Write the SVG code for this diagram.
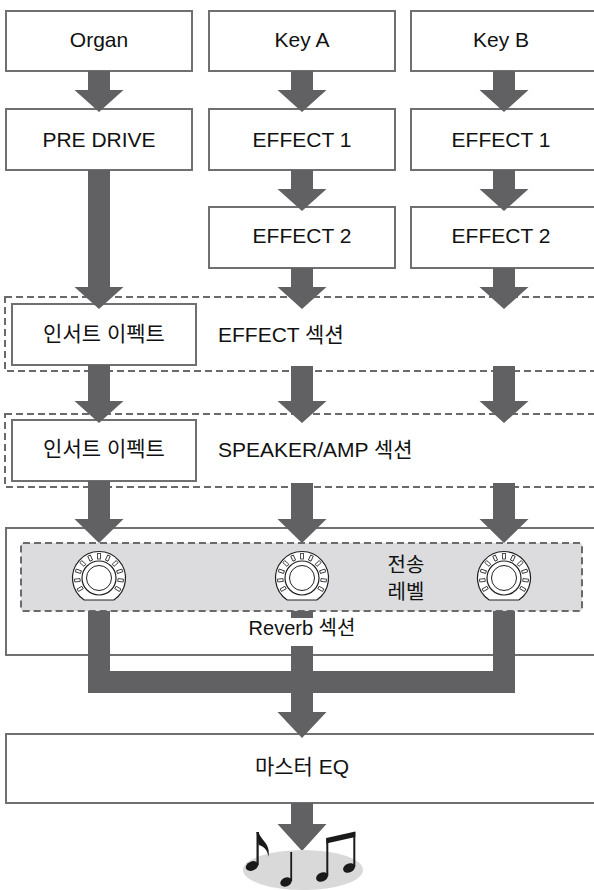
<svg xmlns="http://www.w3.org/2000/svg" width="594" height="890" viewBox="0 0 594 890">
<style>
.box{fill:#fff;stroke:#707072;stroke-width:2}
.dash{fill:none;stroke:#6a6a6c;stroke-width:2;stroke-dasharray:7 4}
.gray{fill:#dcdcde;stroke:#6a6a6c;stroke-width:2;stroke-dasharray:7 4}
.arr{fill:#616163}
.t{font-family:"Liberation Sans","Noto Sans CJK KR",sans-serif;font-size:21px;fill:#111}
.m{text-anchor:middle}
.ink{fill:#1a1a1a}
</style>
<defs>
<g id="knob">
<path d="M-14.8,22 A26.5,26.5 0 1 1 14.8,22 Z" fill="#fff" stroke="#231f20" stroke-width="1.2"/>
<g fill="#fff" stroke="#231f20" stroke-width="0.8">
<rect x="-1.4" y="-24.5" width="2.8" height="5.5" transform="rotate(-120)"/>
<rect x="-1.4" y="-24.5" width="2.8" height="5.5" transform="rotate(-96)"/>
<rect x="-1.4" y="-24.5" width="2.8" height="5.5" transform="rotate(-72)"/>
<rect x="-1.4" y="-24.5" width="2.8" height="5.5" transform="rotate(-48)"/>
<rect x="-1.4" y="-24.5" width="2.8" height="5.5" transform="rotate(-24)"/>
<rect x="-1.4" y="-24.5" width="2.8" height="5.5"/>
<rect x="-1.4" y="-24.5" width="2.8" height="5.5" transform="rotate(24)"/>
<rect x="-1.4" y="-24.5" width="2.8" height="5.5" transform="rotate(48)"/>
<rect x="-1.4" y="-24.5" width="2.8" height="5.5" transform="rotate(72)"/>
<rect x="-1.4" y="-24.5" width="2.8" height="5.5" transform="rotate(96)"/>
<rect x="-1.4" y="-24.5" width="2.8" height="5.5" transform="rotate(120)"/>
</g>
<circle r="17" fill="#fff" stroke="#231f20" stroke-width="1.2"/>
<circle r="12.5" fill="#fff" stroke="#231f20" stroke-width="1"/>
</g>
</defs>

<g id="organ"><rect class="box" x="6" y="11" width="186" height="60"/><text class="t m" x="99" y="47">Organ</text></g>
<g id="keyA"><rect class="box" x="209" y="11" width="186" height="60"/><text class="t m" x="302" y="47">Key A</text></g>
<g id="keyB"><rect class="box" x="411" y="11" width="200" height="60"/><text class="t m" x="501" y="47">Key B</text></g>
<g id="predrive"><rect class="box" x="6" y="109" width="186" height="61"/><text class="t m" x="99" y="147">PRE DRIVE</text></g>
<g id="effect1A"><rect class="box" x="209" y="109" width="186" height="61"/><text class="t m" x="302" y="147">EFFECT 1</text></g>
<g id="effect1B"><rect class="box" x="411" y="109" width="200" height="61"/><text class="t m" x="501" y="147">EFFECT 1</text></g>
<g id="effect2A"><rect class="box" x="209" y="207" width="186" height="61"/><text class="t m" x="302" y="243">EFFECT 2</text></g>
<g id="effect2B"><rect class="box" x="411" y="207" width="200" height="61"/><text class="t m" x="501" y="243">EFFECT 2</text></g>

<g id="effectSection">
<rect class="dash" x="5" y="297" width="600" height="74"/>
<rect class="box" x="12" y="304" width="184" height="61"/>
<text class="t m" x="104" y="341">인서트 이펙트</text>
<text class="t" x="218" y="342">EFFECT 섹션</text>
</g>
<g id="speakerSection">
<rect class="dash" x="5" y="414" width="600" height="73"/>
<rect class="box" x="12" y="420" width="184" height="61"/>
<text class="t m" x="104" y="456">인서트 이펙트</text>
<text class="t" x="218" y="457">SPEAKER/AMP 섹션</text>
</g>
<g id="reverbSection">
<rect class="box" x="6" y="528" width="600" height="127"/>
<rect class="gray" x="21" y="543" width="561" height="68" rx="2"/>
<use href="#knob" x="99" y="578"/>
<use href="#knob" x="302" y="578"/>
<use href="#knob" x="504" y="578"/>
<text class="t m" x="406" y="572" style="font-size:20px">전송</text>
<text class="t m" x="406" y="599" style="font-size:20px">레벨</text>
</g>
<g id="masterEQ"><rect class="box" x="6" y="734" width="600" height="69"/><text class="t m" x="302" y="774">마스터 EQ</text></g>

<g id="connectors" class="arr">
<polygon points="88,71 110,71 110,90 123.5,90 99,112 74.5,90 88,90"/>
<polygon points="291,71 313,71 313,90 326.5,90 302,112 277.5,90 291,90"/>
<polygon points="493,71 515,71 515,90 528.5,90 504,112 479.5,90 493,90"/>
<polygon points="291,170 313,170 313,189 326.5,189 302,211 277.5,189 291,189"/>
<polygon points="493,170 515,170 515,189 528.5,189 504,211 479.5,189 493,189"/>
<polygon points="88,170 110,170 110,287 123.5,287 99,309 74.5,287 88,287"/>
<polygon points="291,268 313,268 313,287 326.5,287 302,309 277.5,287 291,287"/>
<polygon points="493,268 515,268 515,287 528.5,287 504,309 479.5,287 493,287"/>
<polygon points="88,365 110,365 110,401 123.5,401 99,423 74.5,401 88,401"/>
<polygon points="291,366 313,366 313,401 326.5,401 302,423 277.5,401 291,401"/>
<polygon points="493,366 515,366 515,401 528.5,401 504,423 479.5,401 493,401"/>
<polygon points="88,481 110,481 110,519 123.5,519 99,543 74.5,519 88,519"/>
<polygon points="291,483 313,483 313,519 326.5,519 302,543 277.5,519 291,519"/>
<polygon points="493,483 515,483 515,519 528.5,519 504,543 479.5,519 493,519"/>
<polygon points="88,611 110,611 110,671 493,671 493,611 515,611 515,693 88,693"/>
<polygon points="291,611 313,611 313,712 326.5,712 302,738 277.5,712 291,712"/>
<polygon points="291,803 313,803 313,824 326.5,824 302,851 277.5,824 291,824"/>
</g>

<g id="reverbLabel">
<rect x="242" y="618" width="120" height="28" fill="#fff"/>
<text class="t m" x="302" y="635" style="font-size:20px">Reverb 섹션</text>
</g>

<g id="output">
<ellipse cx="303" cy="870" rx="60" ry="20" fill="#d9d9da"/>
<g class="ink">
<ellipse cx="252" cy="866" rx="6.5" ry="4.5" transform="rotate(-25 252 866)"/>
<rect x="256.5" y="832" width="2.2" height="33"/>
<path d="M256.5,832 L258.7,832 C260,840 271,843 268.5,857 C267.5,849 263,846 258.7,845 Z"/>
<ellipse cx="286" cy="882" rx="6" ry="4.3" transform="rotate(-25 286 882)"/>
<rect x="290.3" y="852" width="1.8" height="29"/>
<ellipse cx="322" cy="877" rx="6.2" ry="4.5" transform="rotate(-25 322 877)"/>
<ellipse cx="349" cy="868" rx="6.2" ry="4.5" transform="rotate(-25 349 868)"/>
<rect x="326.3" y="838" width="2" height="38"/>
<rect x="353.3" y="832" width="2" height="35"/>
<polygon points="326.3,838 355.3,831.5 355.3,837 326.3,843.5"/>
</g>
</g>
</svg>
